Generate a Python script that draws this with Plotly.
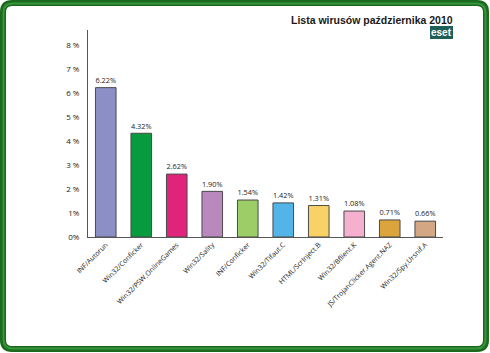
import plotly.graph_objects as go

categories = ["INF/Autorun", "Win32/Conficker", "Win32/PSW.OnlineGames", "Win32/Sality",
              "INF/Conficker", "Win32/Tifaut.C", "HTML/ScrInject.B", "Win32/Bflient.K",
              "JS/TrojanClicker.Agent.NAZ", "Win32/Spy.Ursnif.A"]
values = [6.22, 4.32, 2.62, 1.90, 1.54, 1.42, 1.31, 1.08, 0.71, 0.66]
colors = ["#8c8fc6", "#089a3e", "#e0247b", "#b988bd", "#9dcd67", "#52b4e8",
          "#f8d266", "#f5b0d0", "#dca43c", "#d4a784"]
ytick_vals = [0, 1, 2, 3, 4, 5, 6, 7, 8]
ytick_text = ["0%", "1%", "2 %", "3 %", "4 %", "5 %", "6 %", "7 %", "8 %"]

W, H = 490, 353
L, R, T, B = 88, 47, 30, 116
pw, ph = W - L - R, H - T - B

def px(x):
    return (x - L) / pw

def py(y):
    return 1 - (y - T) / ph

fig = go.Figure(go.Bar(
    x=categories, y=values,
    marker=dict(color=colors, line=dict(color="#4a4a4a", width=1)),
    width=0.58,
    text=[f"{v:.2f}%" for v in values],
    textposition="outside",
    textfont=dict(family="Open Sans, Liberation Sans, sans-serif", size=8.5, color="#1a1a1a"),
    cliponaxis=False,
))

def frame_path(x0, y0, x1, y1, r):
    return (f"M {px(x0+r)} {py(y0)} L {px(x1-r)} {py(y0)} Q {px(x1)} {py(y0)} {px(x1)} {py(y0+r)} "
            f"L {px(x1)} {py(y1-r)} Q {px(x1)} {py(y1)} {px(x1-r)} {py(y1)} "
            f"L {px(x0+r)} {py(y1)} Q {px(x0)} {py(y1)} {px(x0)} {py(y1-r)} "
            f"L {px(x0)} {py(y0+r)} Q {px(x0)} {py(y0)} {px(x0+r)} {py(y0)} Z")

fig.add_shape(type="path", xref="paper", yref="paper", path=frame_path(3, 3, 486, 349, 9),
              line=dict(color="#1b6a1f", width=6), layer="above")
fig.add_shape(type="path", xref="paper", yref="paper", path=frame_path(3.5, 3.5, 485.5, 348.5, 9),
              line=dict(color="#37953a", width=2), layer="above")

fig.add_annotation(xref="paper", yref="paper", x=px(455), y=py(20), xanchor="right", yanchor="middle",
                   text="<b>Lista wirusów października 2010</b>", showarrow=False,
                   font=dict(family="Liberation Sans, Arial, sans-serif", size=10.5, color="#1a1a1a"))
fig.add_annotation(xref="paper", yref="paper", x=px(453), y=py(32), xanchor="right", yanchor="middle",
                   text="<b>eset</b>", showarrow=False, bgcolor="#1f5f5a", bordercolor="#1f5f5a",
                   borderpad=0, borderwidth=1,
                   font=dict(family="Liberation Sans, Arial, sans-serif", size=10, color="#ffffff"))

fig.update_layout(
    width=W, height=H,
    margin=dict(l=L, r=R, t=T, b=B),
    paper_bgcolor="white", plot_bgcolor="white",
    showlegend=False,
    bargap=0.42,
    xaxis=dict(range=[-0.5, 9.5], tickangle=-45, showline=True, linecolor="#555555", linewidth=1,
               ticks="", showgrid=False,
               tickfont=dict(family="Open Sans, Liberation Sans, sans-serif", size=7, color="#222222")),
    yaxis=dict(range=[0, 8.62], tickvals=ytick_vals, ticktext=ytick_text, showline=True,
               linecolor="#555555", linewidth=1, showgrid=False, zeroline=False, ticks="",
               ticklabelstandoff=6,
               tickfont=dict(family="Open Sans, Liberation Sans, sans-serif", size=8, color="#222222")),
)

fig.write_html("out.html")
